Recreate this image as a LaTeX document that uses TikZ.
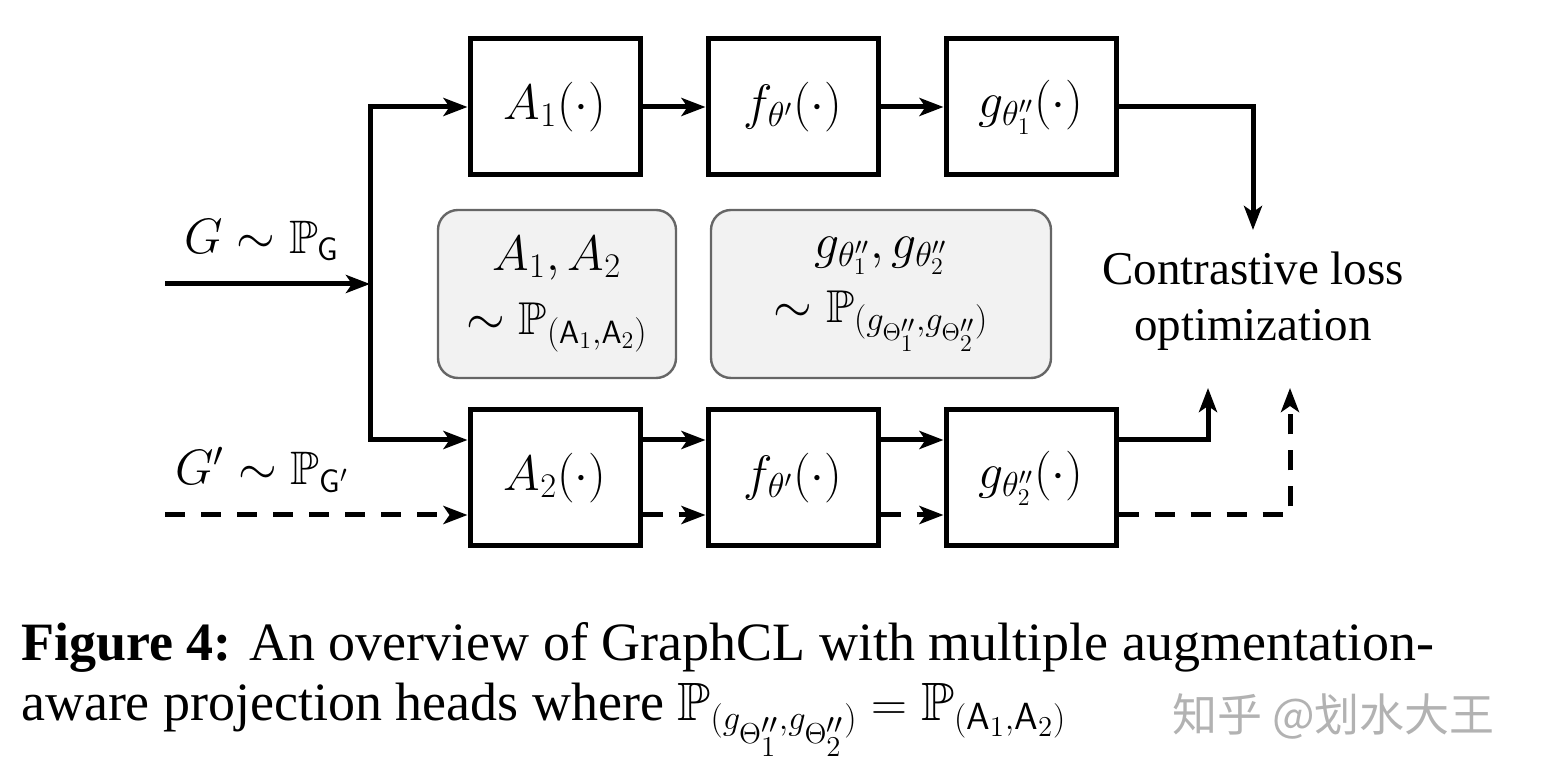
\documentclass[tikz,border=0pt]{standalone}
\usepackage{amsmath,amssymb}
\usepackage{fontspec}
\setmainfont{Liberation Serif}
\newfontfamily\cjk{Noto Sans CJK SC}
\usetikzlibrary{arrows.meta}
\begin{document}
\begin{tikzpicture}[x=0.5pt,y=-0.5pt,
  box/.style={draw,line width=2.5pt,minimum width=85pt,minimum height=68pt,font=\fontsize{24}{28}\selectfont},
  rbox/.style={draw=black!60,line width=1.2pt,rounded corners=10pt,fill=black!5,align=center,font=\fontsize{23}{32}\selectfont},
  con/.style={line width=2.5pt,-{Stealth[length=12pt,width=9pt,inset=3pt]}},
  dcon/.style={con,dash pattern=on 10pt off 8pt},
  lbl/.style={font=\fontsize{23.5}{28}\selectfont}]
\useasboundingbox (0,0) rectangle (1542,779);
\node[box] (a1) at (555,107) {$A_1(\cdot)$};
\node[box] (f1) at (793,107) {$f_{\theta'}(\cdot)$};
\node[box] (g1) at (1031,107) {$g_{\theta''_1}(\cdot)$};
\node[box] (a2) at (555,478) {$A_2(\cdot)$};
\node[box] (f2) at (793,478) {$f_{\theta'}(\cdot)$};
\node[box] (g2) at (1031,478) {$g_{\theta''_2}(\cdot)$};
\node[rbox,minimum width=119pt,minimum height=84pt] (r1) at (557,294) {$A_1,A_2$\\$\sim\mathbb{P}_{(\mathsf{A}_1,\mathsf{A}_2)}$};
\node[rbox,minimum width=170pt,minimum height=84pt] (r2) at (881,294) {$g_{\theta''_1},g_{\theta''_2}$\\$\sim\mathbb{P}_{(g_{\Theta''_1},g_{\Theta''_2})}$};
\node[lbl,align=center] (cl) at (1253,301) {Contrastive loss\\optimization};
\node[lbl] (gl) at (262,240) {$G\sim\mathbb{P}_{\mathsf{G}}$};
\node[lbl] (gpl) at (262,470) {$G'\sim\mathbb{P}_{\mathsf{G}'}$};
\coordinate (in1) at (165,284);
\coordinate (sp) at (370,284);
\coordinate (in2) at (165,515);
\coordinate (c1) at (1253,230);
\coordinate (c2) at (1208,388);
\coordinate (c3) at (1290,388);
\draw[con] (in1) -- (sp);
\draw[con] (370,284) |- (a1.west);
\draw[con] (370,284) |- (a2.west |- 0,440);
\draw[line width=2.5pt] (370,282) -- (370,286);
\draw[con] (a1) -- (f1);
\draw[con] (f1) -- (g1);
\draw[con] (g1.east) -| (c1);
\draw[con] (a2.east |- 0,440) -- (f2.west |- 0,440);
\draw[con] (f2.east |- 0,440) -- (g2.west |- 0,440);
\draw[con] (g2.east |- 0,440) -| (c2);
\draw[dcon] (in2) -- (a2.west |- 0,515);
\draw[dcon] (a2.east |- 0,515) -- (f2.west |- 0,515);
\draw[dcon] (f2.east |- 0,515) -- (g2.west |- 0,515);
\draw[dcon] (g2.east |- 0,515) -| (c3);
\node[anchor=west,font=\fontsize{27}{32}\selectfont] (cap1) at (14,647) {\textbf{Figure 4:} An overview of GraphCL with multiple augmentation-};
\node[anchor=west,font=\fontsize{27}{32}\selectfont] (cap2) at (14,720) {aware projection heads where $\mathbb{P}_{(g_{\Theta''_1},g_{\Theta''_2})}=\mathbb{P}_{(\mathsf{A}_1,\mathsf{A}_2)}$};
\node[anchor=west,text=black!30,font=\cjk\fontsize{22.5}{26}\selectfont] (wm) at (1165,716) {知乎 @划水大王};
\end{tikzpicture}
\end{document}
